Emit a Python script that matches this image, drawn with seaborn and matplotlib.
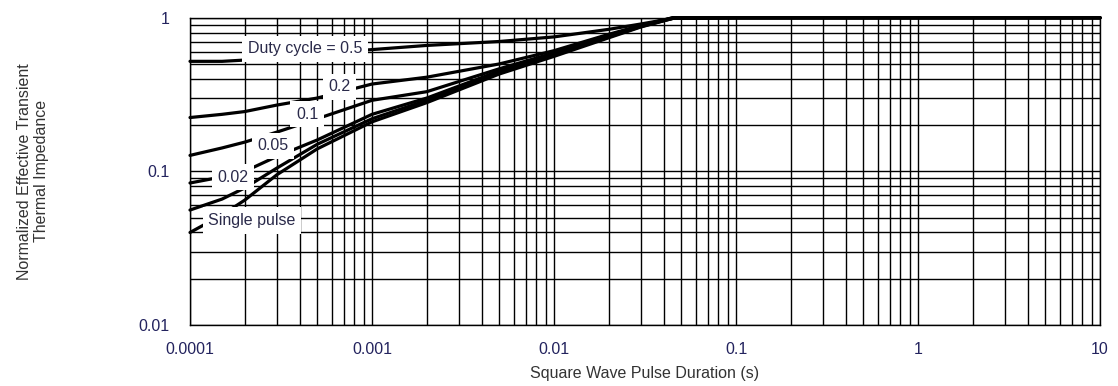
import pandas as pd
import seaborn as sns
import matplotlib
matplotlib.use("Agg")
import matplotlib.pyplot as plt
from matplotlib.ticker import LogLocator, FixedLocator, FixedFormatter, NullFormatter

# Values (log-log)
pulse_s = [1e-4, 1.5e-4, 2e-4, 3e-4, 5e-4, 1e-3, 2e-3, 5e-3, 1e-2, 2e-2, 3e-2, 4.5e-2, 1e-1, 1, 10]
z_d50 = [0.52, 0.52, 0.53, 0.545, 0.58, 0.62, 0.66, 0.70, 0.75, 0.84, 0.91, 0.99, 1.0, 1.0, 1.0]
z_d20 = [0.224, 0.235, 0.245, 0.270, 0.300, 0.370, 0.410, 0.500, 0.610, 0.780, 0.890, 1.0, 1.0, 1.0, 1.0]
z_d10 = [0.127, 0.142, 0.155, 0.180, 0.220, 0.290, 0.330, 0.465, 0.590, 0.770, 0.885, 1.0, 1.0, 1.0, 1.0]
z_d05 = [0.084, 0.092, 0.100, 0.125, 0.160, 0.235, 0.300, 0.450, 0.580, 0.760, 0.880, 0.995, 1.0, 1.0, 1.0]
z_d02 = [0.056, 0.066, 0.078, 0.105, 0.150, 0.220, 0.290, 0.440, 0.570, 0.750, 0.875, 0.990, 1.0, 1.0, 1.0]
z_single = [0.040, 0.052, 0.065, 0.095, 0.140, 0.210, 0.280, 0.430, 0.560, 0.740, 0.870, 0.990, 1.0, 1.0, 1.0]

curve_names = ["0.5", "0.2", "0.1", "0.05", "0.02", "single"]
curve_values = [z_d50, z_d20, z_d10, z_d05, z_d02, z_single]
curve_labels = ["Duty cycle = 0.5", "0.2", "0.1", "0.05", "0.02", "Single pulse"]

x_ticks = [1e-4, 1e-3, 1e-2, 1e-1, 1, 10]
x_ticklabels = ["0.0001", "0.001", "0.01", "0.1", "1", "10"]
y_ticks = [0.01, 0.1, 1]
y_ticklabels = ["0.01", "0.1", "1"]

# label placement (data coords)
label_pos = [(4.28e-4, 0.626), (6.6e-4, 0.355), (4.4e-4, 0.236),
             (2.86e-4, 0.147), (1.72e-4, 0.0915), (2.19e-4, 0.0479)]

rows = []
for name, vals in zip(curve_names, curve_values):
    for x, y in zip(pulse_s, vals):
        rows.append({"t": x, "z": y, "curve": name})
df = pd.DataFrame(rows)

sns.set_theme(style="white")
plt.rcParams["font.family"] = ["Liberation Sans", "DejaVu Sans"]

fig = plt.figure(figsize=(11.18, 3.86), dpi=100)
ax = fig.add_axes([190 / 1118, 1 - 325 / 386, 910 / 1118, (325 - 17.7) / 386])

sns.lineplot(data=df, x="t", y="z", hue="curve", palette=["black"] * 6,
             estimator=None, sort=False, legend=False, linewidth=2.3, ax=ax,
             clip_on=False, zorder=3)

ax.set_xscale("log")
ax.set_yscale("log")
ax.set_xlim(1e-4, 10)
ax.set_ylim(0.01, 1)

ax.xaxis.set_major_locator(FixedLocator(x_ticks))
ax.xaxis.set_major_formatter(FixedFormatter(x_ticklabels))
ax.yaxis.set_major_locator(FixedLocator(y_ticks))
ax.yaxis.set_major_formatter(FixedFormatter(y_ticklabels))
ax.xaxis.set_minor_locator(LogLocator(base=10, subs=range(2, 10), numticks=20))
ax.yaxis.set_minor_locator(LogLocator(base=10, subs=range(2, 10), numticks=20))
ax.xaxis.set_minor_formatter(NullFormatter())
ax.yaxis.set_minor_formatter(NullFormatter())

ax.grid(True, which="both", color="black", linewidth=1.0)
ax.set_axisbelow(True)
ax.tick_params(which="both", length=0)
ax.tick_params(axis="x", pad=12, labelsize=11.5, labelcolor="#23235e")
ax.tick_params(axis="y", pad=15, labelsize=11.5, labelcolor="#23235e")
for sp in ax.spines.values():
    sp.set_color("black")
    sp.set_linewidth(1.0)

ax.set_xlabel("Square Wave Pulse Duration (s)", fontsize=11.5, color="#333333")
ax.xaxis.set_label_coords(0.5, -0.135)
ax.set_ylabel("Normalized Effective Transient\nThermal Impedance", fontsize=11.5,
              color="#333333", linespacing=1.15)
ax.yaxis.set_label_coords(-0.155, 0.5)

for text, (lx, ly) in zip(curve_labels, label_pos):
    ax.text(lx, ly, text, ha="center", va="center", fontsize=11.5, color="#2a2a4a",
            zorder=5, bbox=dict(boxstyle="square,pad=0.35", facecolor="white",
                                edgecolor="none"))

fig.savefig("out.png", dpi=100)
